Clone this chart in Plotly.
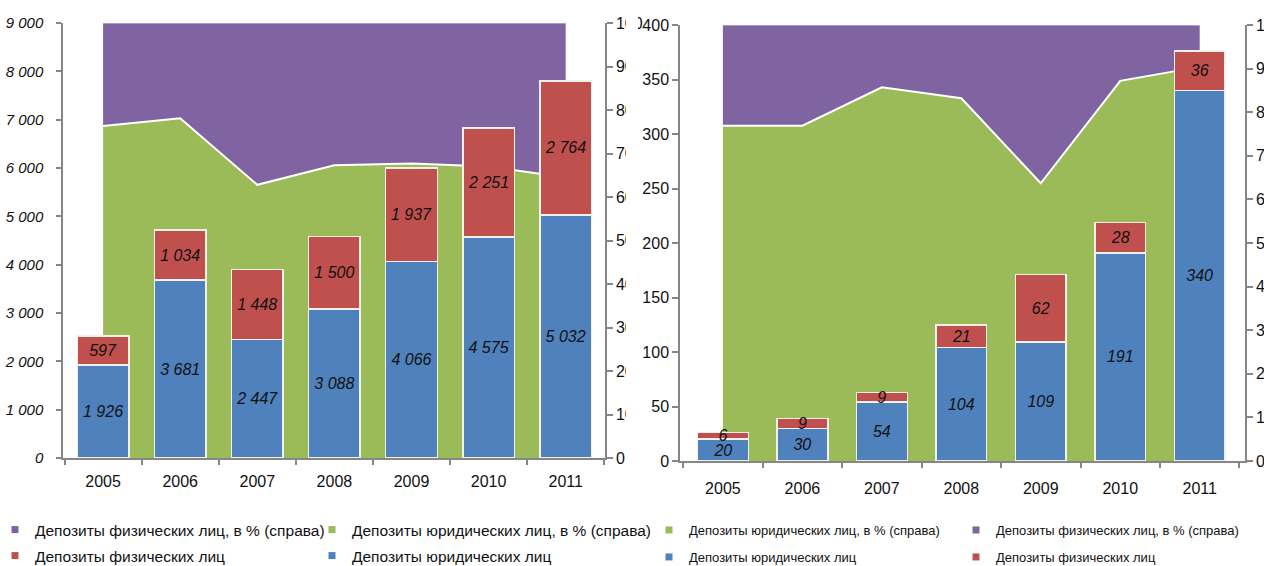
import plotly.graph_objects as go

# ---- data -------------------------------------------------------------
years = ["2005", "2006", "2007", "2008", "2009", "2010", "2011"]

# left panel: deposits, absolute values
left_legal = [1926, 3681, 2447, 3088, 4066, 4575, 5032]
left_indiv = [597, 1034, 1448, 1500, 1937, 2251, 2764]
# left panel: shares, % (right axis)
left_legal_pct = [76.3, 78.1, 62.8, 67.3, 67.7, 67.0, 64.5]
left_indiv_pct = [23.7, 21.9, 37.2, 32.7, 32.3, 33.0, 35.5]

# right panel: deposits, absolute values
right_legal = [20, 30, 54, 104, 109, 191, 340]
right_indiv = [6, 9, 9, 21, 62, 28, 36]
# right panel: shares, % (right axis)
right_legal_pct = [76.9, 76.9, 85.7, 83.2, 63.7, 87.2, 90.4]
right_indiv_pct = [23.1, 23.1, 14.3, 16.8, 36.3, 12.8, 9.6]

pct_ticks = [0, 10, 20, 30, 40, 50, 60, 70, 80, 90, 100]

NAME_INDIV_PCT = "Депозиты физических лиц, в % (справа)"
NAME_LEGAL_PCT = "Депозиты юридических лиц, в % (справа)"
NAME_INDIV = "Депозиты физических лиц"
NAME_LEGAL = "Депозиты юридических лиц"

# ---- styling ------------------------------------------------------------
PURPLE = "#8064A2"
GREEN = "#9BBB59"
RED = "#C0504D"
BLUE = "#4F81BD"
AXIS = "#868686"
W, H = 1264, 566
SANS = "Liberation Sans, Arial, sans-serif"


def fmt(v):
    return f"{v:,}".replace(",", "\u00a0")


def px_x(p):
    return p / W


def px_y(p):
    return 1 - p / H


fig = go.Figure()

# ---- left panel -----------------------------------------------------------
fig.add_trace(go.Scatter(x=years, y=left_legal_pct, stackgroup="l", mode="lines",
                         line=dict(color="white", width=2), fillcolor=GREEN,
                         xaxis="x", yaxis="y", showlegend=False, hoverinfo="skip"))
fig.add_trace(go.Scatter(x=years, y=left_indiv_pct, stackgroup="l", mode="lines",
                         line=dict(color="rgba(235,235,235,0.8)", width=1), fillcolor=PURPLE,
                         xaxis="x", yaxis="y", showlegend=False, hoverinfo="skip"))

bar_font = dict(family=SANS, size=16, color="#111111", style="italic")
bar_line = dict(color="#F4F1EA", width=1.5)
bar_text_opts = dict(textposition="inside", insidetextanchor="middle", textangle=0,
                     constraintext="none", textfont=bar_font, showlegend=False)

fig.add_trace(go.Bar(x=years, y=left_legal, width=0.67, marker=dict(color=BLUE, line=bar_line),
                     text=[fmt(v) for v in left_legal], xaxis="x", yaxis="y2", **bar_text_opts))
fig.add_trace(go.Bar(x=years, y=left_indiv, width=0.67, marker=dict(color=RED, line=bar_line),
                     text=[fmt(v) for v in left_indiv], xaxis="x", yaxis="y2", **bar_text_opts))

# ---- right panel ----------------------------------------------------------
fig.add_trace(go.Scatter(x=years, y=right_legal_pct, stackgroup="r", mode="lines",
                         line=dict(color="white", width=2), fillcolor=GREEN,
                         xaxis="x2", yaxis="y3", showlegend=False, hoverinfo="skip"))
fig.add_trace(go.Scatter(x=years, y=right_indiv_pct, stackgroup="r", mode="lines",
                         line=dict(color="rgba(235,235,235,0.8)", width=1), fillcolor=PURPLE,
                         xaxis="x2", yaxis="y3", showlegend=False, hoverinfo="skip"))

fig.add_trace(go.Bar(x=years, y=right_legal, width=0.64, marker=dict(color=BLUE, line=bar_line),
                     text=[str(v) for v in right_legal], xaxis="x2", yaxis="y4", **bar_text_opts))
fig.add_trace(go.Bar(x=years, y=right_indiv, width=0.64, marker=dict(color=RED, line=bar_line),
                     text=[str(v) for v in right_indiv], xaxis="x2", yaxis="y4", **bar_text_opts))

# ---- legend entries (small square keys) -----------------------------------
legend_items = [
    ("legend", NAME_INDIV_PCT, PURPLE, "x", "y"),
    ("legend2", NAME_LEGAL_PCT, GREEN, "x", "y"),
    ("legend3", NAME_INDIV, RED, "x", "y"),
    ("legend4", NAME_LEGAL, BLUE, "x", "y"),
    ("legend5", NAME_LEGAL_PCT, GREEN, "x2", "y3"),
    ("legend6", NAME_INDIV_PCT, PURPLE, "x2", "y3"),
    ("legend7", NAME_LEGAL, BLUE, "x2", "y3"),
    ("legend8", NAME_INDIV, RED, "x2", "y3"),
]
for leg, name, color, xa, ya in legend_items:
    fig.add_trace(go.Scatter(x=[None], y=[None], mode="markers", name=name,
                             marker=dict(symbol="square", size=7, color=color),
                             xaxis=xa, yaxis=ya, legend=leg, showlegend=True))

# legend key positions (pixels): key centre x, row y, font size
legend_pos = {
    "legend": (20, 530, 15.5), "legend2": (337, 530, 15.5),
    "legend3": (20, 556, 15.5), "legend4": (337, 556, 15.5),
    "legend5": (674, 530, 13), "legend6": (981, 530, 13),
    "legend7": (674, 557, 13), "legend8": (981, 557, 13),
}
legend_layout = {}
for leg, (kx, ky, fs) in legend_pos.items():
    legend_layout[leg] = dict(x=px_x(kx - 25), y=px_y(ky), xanchor="left", yanchor="middle",
                              bgcolor="rgba(0,0,0,0)", borderwidth=0,
                              font=dict(family=SANS, size=fs, color="#111111"))

axis_common = dict(showline=True, linecolor=AXIS, linewidth=1.5, ticks="outside",
                   tickcolor=AXIS, tickwidth=1.5, showgrid=False, zeroline=False,
                   automargin=False, fixedrange=True)

fig.update_layout(
    width=W, height=H, margin=dict(l=0, r=0, t=0, b=0, autoexpand=False),
    paper_bgcolor="white", plot_bgcolor="rgba(0,0,0,0)",
    barmode="stack", separators=", ",
    font=dict(family=SANS, size=16, color="#111111"),
    # left panel axes
    xaxis=dict(domain=[px_x(63), px_x(605)], anchor="y", type="category",
               range=[-0.52, 6.51], tickson="boundaries", ticklen=5, ticklabelstandoff=8,
               tickfont=dict(family=SANS, size=16, color="#111111"), **axis_common),
    yaxis=dict(domain=[px_y(458), px_y(23)], anchor="x", side="right", range=[0, 100],
               tickvals=pct_ticks, ticktext=[str(v) for v in pct_ticks], ticklen=6,
               tickfont=dict(family=SANS, size=16, color="#111111"), **axis_common),
    yaxis2=dict(overlaying="y", anchor="x", side="left", range=[0, 9000],
                tickvals=list(range(0, 9001, 1000)), tickformat=",d", ticklen=5,
                ticklabelstandoff=10,
                tickfont=dict(family=SANS, size=15, color="#111111", style="italic"),
                **axis_common),
    # right panel axes
    xaxis2=dict(domain=[px_x(680), px_x(1245)], anchor="y3", type="category",
                range=[-0.54, 6.57], tickson="boundaries", ticklen=5, ticklabelstandoff=12,
                tickfont=dict(family=SANS, size=16, color="#111111"), **axis_common),
    yaxis3=dict(domain=[px_y(461), px_y(25)], anchor="x2", side="right", range=[0, 100],
                tickvals=pct_ticks, ticktext=[str(v) for v in pct_ticks], ticklen=6,
                tickfont=dict(family=SANS, size=16, color="#111111"), **axis_common),
    yaxis4=dict(overlaying="y3", anchor="x2", side="left", range=[0, 400],
                tickvals=list(range(0, 401, 50)), ticklen=6,
                tickfont=dict(family=SANS, size=16, color="#111111"), **axis_common),
    # the left panel's percentage labels are cut where the right panel begins
    shapes=[dict(type="rect", xref="paper", yref="paper", layer="above",
                 x0=px_x(626), x1=px_x(638), y0=px_y(475), y1=1,
                 fillcolor="white", line=dict(width=0))],
    **legend_layout,
)

fig.write_html("out.html")
